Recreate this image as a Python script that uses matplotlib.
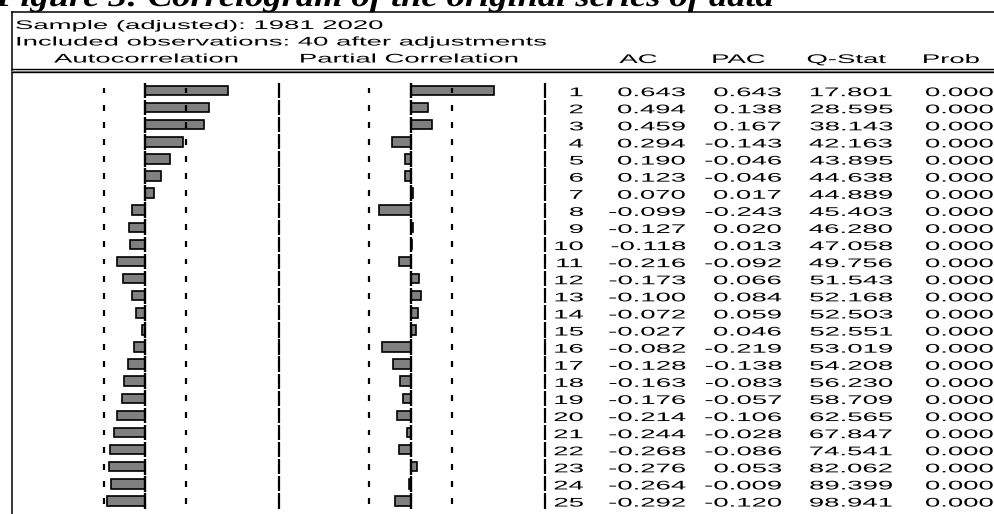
import numpy as np
import matplotlib
matplotlib.use("Agg")
import matplotlib.pyplot as plt
from matplotlib.patheffects import AbstractPathEffect
from matplotlib.transforms import Affine2D

# ---------------- data ----------------
lags = list(range(1, 26))
ac = [0.643, 0.494, 0.459, 0.294, 0.190, 0.123, 0.070, -0.099, -0.127, -0.118,
      -0.216, -0.173, -0.100, -0.072, -0.027, -0.082, -0.128, -0.163, -0.176,
      -0.214, -0.244, -0.268, -0.276, -0.264, -0.292]
pac = [0.643, 0.138, 0.167, -0.143, -0.046, -0.046, 0.017, -0.243, 0.020, 0.013,
       -0.092, 0.066, 0.084, 0.059, 0.046, -0.219, -0.138, -0.083, -0.057,
       -0.106, -0.028, -0.086, 0.053, -0.009, -0.120]
q_stat = [17.801, 28.595, 38.143, 42.163, 43.895, 44.638, 44.889, 45.403, 46.280,
          47.058, 49.756, 51.543, 52.168, 52.503, 52.551, 53.019, 54.208, 56.230,
          58.709, 62.565, 67.847, 74.541, 82.062, 89.399, 98.941]
prob = [0.000] * 25
n_obs = 40
title = "Figure 3: Correlogram of the original series of data"
sample_line = "Sample (adjusted): 1981 2020"
obs_line = "Included observations: 40 after adjustments"
panel_headers = ["Autocorrelation", "Partial Correlation"]
col_headers = ["AC", "PAC", "Q-Stat", "Prob"]

# ---------------- layout helpers ----------------
W, H, DPI = 995, 514, 100
fig = plt.figure(figsize=(W / DPI, H / DPI), dpi=DPI)
fig.patch.set_facecolor("white")


def px_rect(x0, y0, x1, y1):
    return [x0 / W, 1 - y1 / H, (x1 - x0) / W, (y1 - y0) / H]


class HStretch(AbstractPathEffect):
    """Stretch the glyphs of a text horizontally about its anchor point."""

    def __init__(self, text, sx):
        super().__init__()
        self.text = text
        self.sx = sx

    def draw_path(self, renderer, gc, tpath, affine, rgbFace=None):
        t = self.text
        ax_x = t.get_transform().transform(t.get_position())[0]
        m = np.array(affine.get_matrix(), dtype=float)
        m[0, :] *= self.sx
        m[0, 2] += ax_x * (1 - self.sx)
        renderer.draw_path(gc, tpath, Affine2D(m), rgbFace)


SANS = "Liberation Sans"
FS = 9
SX = 2.2


def stext(ax, x, y, s, ha="left", sx=SX, **kw):
    kw.setdefault("family", SANS)
    kw.setdefault("fontsize", FS)
    t = ax.text(x, y, s, ha=ha, va="baseline", color="black", **kw)
    t.set_path_effects([HStretch(t, sx)])
    return t


# ---------------- frame / header ----------------
axf = fig.add_axes([0, 0, 1, 1])
axf.set_xlim(0, W)
axf.set_ylim(H, 0)
axf.axis("off")

axf.plot([12, 12], [12, H], color="black", lw=1.1)
axf.plot([12, W], [12, 12], color="black", lw=1.1)
axf.plot([12, W], [69.2, 69.2], color="black", lw=1.0)
axf.plot([12, W], [70.6, 70.6], color="#888888", lw=1.0)
axf.plot([12, W], [72.0, 72.0], color="black", lw=1.0)

stext(axf, -4, 6.0, title, sx=1.25, family="Liberation Serif",
      fontsize=21, fontweight="bold", fontstyle="italic")
stext(axf, 15, 29, sample_line)
stext(axf, 15, 45.5, obs_line)
stext(axf, 147, 62.5, panel_headers[0], ha="center")
stext(axf, 410, 62.5, panel_headers[1], ha="center")
for h, xc in zip(col_headers, [638.5, 738.5, 846.5, 951]):
    stext(axf, xc, 63, h, ha="center")

# ---------------- panels ----------------
row1_px, row_step = 90.5, 17.1
top_px, bot_px = 72, 514
ylim = (1 + (bot_px - row1_px) / row_step, 1 + (top_px - row1_px) / row_step)
band = 2 / np.sqrt(n_obs)
lag_arr = np.array(lags, dtype=float)


def panel(rect_px, zero_px, scale, values):
    x0, x1 = rect_px[0], rect_px[2]
    ax = fig.add_axes(px_rect(*rect_px))
    ax.set_xlim(-(zero_px - x0) / scale, (x1 - zero_px) / scale)
    ax.set_ylim(*ylim)
    ax.axis("off")
    ax.barh(lags, values, height=0.56, color="#808080", edgecolor="black",
            linewidth=1.2, zorder=2)
    ax.vlines(np.zeros_like(lag_arr), lag_arr - 0.46, lag_arr + 0.46,
              color="black", lw=1.7, zorder=3)
    for b in (-band, band):
        ax.vlines(np.full_like(lag_arr, b), lag_arr - 0.17, lag_arr + 0.17,
                  color="black", lw=1.6, zorder=3)
    xr = ax.get_xlim()[1]
    ax.vlines(np.full_like(lag_arr, xr), lag_arr - 0.45, lag_arr + 0.45,
              color="black", lw=1.6, zorder=3, clip_on=False)
    return ax


ax_acf = panel((12, top_px, 279, bot_px), 145, 129, ac)
ax_pacf = panel((279, top_px, 545, bot_px), 410.5, 130, pac)

# ---------------- table ----------------
axt = fig.add_axes(px_rect(545, top_px, W, bot_px))
axt.set_xlim(545, W)
axt.set_ylim(*ylim)
axt.axis("off")
col_right = [584, 686, 782, 893, 994]
for i, lag in enumerate(lags):
    yb = lag + 0.33
    stext(axt, col_right[0], yb, f"{lag}", ha="right")
    stext(axt, col_right[1], yb, f"{ac[i]:.3f}", ha="right")
    stext(axt, col_right[2], yb, f"{pac[i]:.3f}", ha="right")
    stext(axt, col_right[3], yb, f"{q_stat[i]:.3f}", ha="right")
    stext(axt, col_right[4], yb, f"{prob[i]:.3f}", ha="right")

fig.savefig("out.png", dpi=DPI, facecolor="white")
